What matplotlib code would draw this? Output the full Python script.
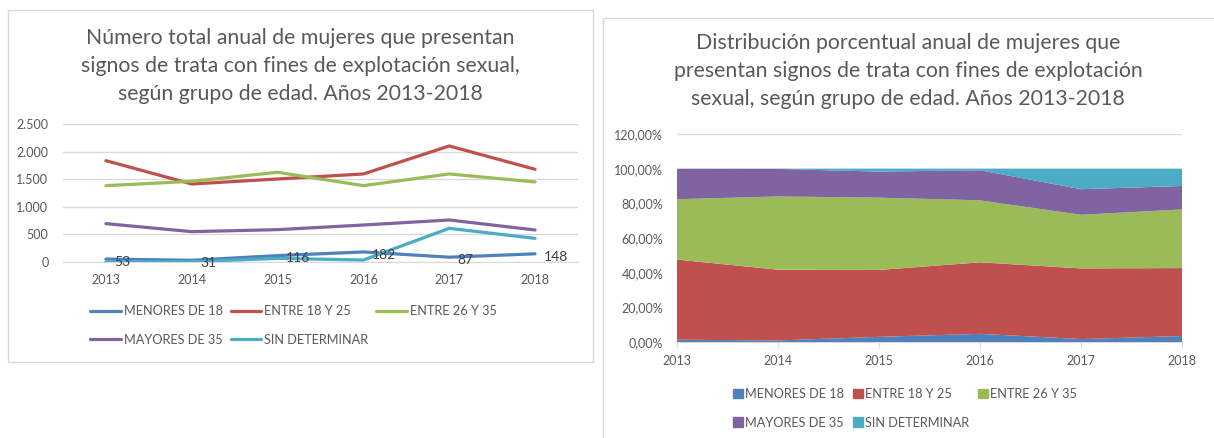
import numpy as np
import matplotlib.pyplot as plt
from matplotlib.patches import Rectangle, Patch

plt.rcParams['font.family'] = ['Lato', 'DejaVu Sans']

# datos
anios = ['2013', '2014', '2015', '2016', '2017', '2018']
grupos = ['MENORES DE 18', 'ENTRE 18 Y 25', 'ENTRE 26 Y 35', 'MAYORES DE 35', 'SIN DETERMINAR']
menores_18 = [53, 31, 116, 182, 87, 148]
entre_18_25 = [1836, 1413, 1504, 1595, 2102, 1679]
entre_26_35 = [1383, 1462, 1625, 1383, 1595, 1450]
mayores_35 = [695, 550, 586, 670, 761, 580]
sin_determinar = [5, 5, 66, 36, 610, 428]
colores = ['#4F81BD', '#C0504D', '#9BBB59', '#8064A2', '#4BACC6']

series = np.array([menores_18, entre_18_25, entre_26_35, mayores_35, sin_determinar], dtype=float)
porcentajes = series / series.sum(axis=0)

gris_texto = '#595959'
gris_linea = '#D9D9D9'

W, H = 1214, 438
fig = plt.figure(figsize=(W / 100, H / 100), dpi=100)

# marcos de los dos graficos
fig.patches.append(Rectangle((8 / W, 1 - 362 / H), 585 / W, 352 / H, transform=fig.transFigure,
                             fill=False, edgecolor=gris_linea, lw=1))
fig.patches.append(Rectangle((603 / W, -0.05), 700 / W, 1 - 18 / H + 0.05, transform=fig.transFigure,
                             fill=False, edgecolor=gris_linea, lw=1))

# 1- grafico de lineas
ax1 = fig.add_axes([63 / W, 1 - 262 / H, 515 / W, 138 / H])
x = np.arange(len(anios))
for i in range(len(grupos)):
    ax1.plot(x, series[i], color=colores[i], lw=2.3, label=grupos[i], solid_capstyle='round', zorder=3)
for xi, v in zip(x, menores_18):
    ax1.annotate(str(v), (xi, v), xytext=(6, -2), textcoords='offset points',
                 ha='left', va='center', fontsize=10, color='#404040', zorder=4)
ax1.set_xlim(-0.5, len(anios) - 0.5)
ax1.set_ylim(0, 2500)
ax1.set_yticks([0, 500, 1000, 1500, 2000, 2500])
ax1.set_yticklabels(['0', '500', '1.000', '1.500', '2.000', '2.500'])
ax1.set_xticks(x)
ax1.set_xticklabels(anios)
ax1.grid(axis='y', color=gris_linea, lw=1)
ax1.set_axisbelow(True)
for s in ['top', 'right', 'left']:
    ax1.spines[s].set_visible(False)
ax1.spines['bottom'].set_color(gris_linea)
ax1.tick_params(length=0, labelsize=9, labelcolor=gris_texto)
ax1.tick_params(axis='y', pad=10.5)
ax1.tick_params(axis='x', pad=9)

fig.text(300 / W, 1 - 66 / H,
         'Número total anual de mujeres que presentan\nsignos de trata con fines de explotación sexual,\nsegún grupo de edad. Años 2013-2018',
         ha='center', va='center', fontsize=15.3, color=gris_texto, linespacing=1.5)

h = ax1.get_lines()
orden = [0, 3, 1, 4, 2]
fig.legend([h[i] for i in orden], [grupos[i] for i in orden], ncol=3, frameon=False,
           loc='upper left', bbox_to_anchor=(90 / W, 1 - 305 / H), borderpad=0, borderaxespad=0,
           fontsize=9.2, labelcolor=gris_texto, handlelength=2.4, handletextpad=0.25,
           columnspacing=0.6, labelspacing=1.3)

# 2- grafico de areas apiladas
ax2 = fig.add_axes([677 / W, 1 - 342 / H, 505 / W, 208 / H])
ax2.stackplot(x, porcentajes, colors=colores, labels=grupos, zorder=3, edgecolor='none')
ax2.set_xlim(0, len(anios) - 1)
ax2.set_ylim(0, 1.2)
ax2.set_yticks(np.arange(0, 1.21, 0.2))
ax2.set_yticklabels(['0,00%', '20,00%', '40,00%', '60,00%', '80,00%', '100,00%', '120,00%'])
ax2.set_xticks(x)
ax2.set_xticklabels(anios)
ax2.grid(axis='y', color=gris_linea, lw=1)
ax2.set_axisbelow(True)
for s in ['top', 'right', 'left']:
    ax2.spines[s].set_visible(False)
ax2.spines['bottom'].set_color(gris_linea)
ax2.tick_params(axis='y', length=0, labelsize=9, labelcolor=gris_texto, pad=10)
ax2.tick_params(axis='x', length=4.5, color=gris_linea, labelsize=9, labelcolor=gris_texto, pad=5)

fig.text(908 / W, 1 - 71 / H,
         'Distribución porcentual anual de mujeres que\npresentan signos de trata con fines de explotación\nsexual, según grupo de edad. Años 2013-2018',
         ha='center', va='center', fontsize=15.3, color=gris_texto, linespacing=1.5)

parches = [Patch(color=c) for c in colores]
fig.legend([parches[i] for i in orden], [grupos[i] for i in orden], ncol=3, frameon=False,
           loc='upper left', bbox_to_anchor=(733 / W, 1 - 388 / H), borderpad=0, borderaxespad=0,
           fontsize=9.2, labelcolor=gris_texto, handlelength=0.75, handleheight=0.75,
           handletextpad=0.2, columnspacing=0.7, labelspacing=1.3)

fig.savefig('out.png', dpi=100)
